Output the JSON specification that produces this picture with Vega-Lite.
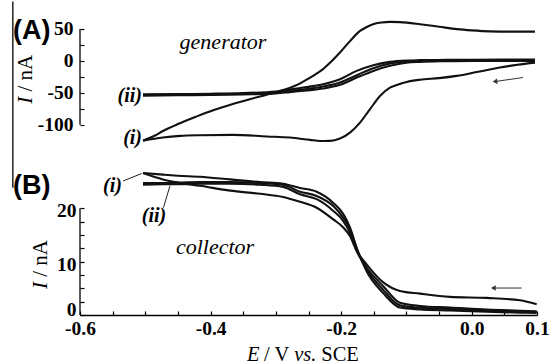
{
  "$schema": "https://vega.github.io/schema/vega-lite/v6.json",
  "padding": {"left": 12, "top": 0, "right": 0, "bottom": 0},
  "bounds": "flush",
  "spacing": 18,
  "config": {
    "font": "Liberation Serif",
    "view": {"stroke": null},
    "axis": {"grid": false, "domainColor": "#000", "tickColor": "#000", "labelColor": "#000", "labelFont": "Liberation Serif", "labelFontWeight": "bold", "labelFontSize": 19.5, "tickWidth": 1.2, "domainWidth": 1.3, "labelFlush": false, "labelOverlap": false}
  },
  "datasets": {
    "genA": [
      {"s":"i_rev","E":-0.5035,"I":-125},{"s":"i_rev","E":-0.485,"I":-117},{"s":"i_rev","E":-0.473,"I":-110},{"s":"i_rev","E":-0.45,"I":-99},{"s":"i_rev","E":-0.421,"I":-87},{"s":"i_rev","E":-0.395,"I":-77},{"s":"i_rev","E":-0.366,"I":-67.5},{"s":"i_rev","E":-0.34,"I":-60},{"s":"i_rev","E":-0.314,"I":-53},{"s":"i_rev","E":-0.295,"I":-47.5},{"s":"i_rev","E":-0.278,"I":-42},{"s":"i_rev","E":-0.265,"I":-36.5},{"s":"i_rev","E":-0.2528,"I":-29.5},{"s":"i_rev","E":-0.24,"I":-21.5},{"s":"i_rev","E":-0.2278,"I":-13},{"s":"i_rev","E":-0.215,"I":-1},{"s":"i_rev","E":-0.2018,"I":13},{"s":"i_rev","E":-0.1865,"I":31},{"s":"i_rev","E":-0.1711,"I":47},{"s":"i_rev","E":-0.16,"I":53.5},{"s":"i_rev","E":-0.1512,"I":57.5},{"s":"i_rev","E":-0.138,"I":60.2},{"s":"i_rev","E":-0.1252,"I":61.1},{"s":"i_rev","E":-0.11,"I":60.8},{"s":"i_rev","E":-0.0992,"I":60},{"s":"i_rev","E":-0.0793,"I":57.5},{"s":"i_rev","E":-0.05,"I":53.5},{"s":"i_rev","E":-0.0226,"I":49.7},{"s":"i_rev","E":0.0,"I":47.8},{"s":"i_rev","E":0.028,"I":46.3},{"s":"i_rev","E":0.06,"I":45.9},{"s":"i_rev","E":0.0969,"I":45.9},
      {"s":"i_fwd","E":0.0969,"I":-2.7},{"s":"i_fwd","E":0.07,"I":-6},{"s":"i_fwd","E":0.0433,"I":-10.5},{"s":"i_fwd","E":0.01,"I":-17},{"s":"i_fwd","E":-0.023,"I":-23.5},{"s":"i_fwd","E":-0.05,"I":-27},{"s":"i_fwd","E":-0.0793,"I":-29.5},{"s":"i_fwd","E":-0.0996,"I":-33},{"s":"i_fwd","E":-0.1125,"I":-37},{"s":"i_fwd","E":-0.1252,"I":-42},{"s":"i_fwd","E":-0.1405,"I":-55},{"s":"i_fwd","E":-0.1558,"I":-75.7},{"s":"i_fwd","E":-0.1711,"I":-96.7},{"s":"i_fwd","E":-0.1865,"I":-112.4},{"s":"i_fwd","E":-0.2018,"I":-121.8},{"s":"i_fwd","E":-0.2171,"I":-125.4},{"s":"i_fwd","E":-0.232,"I":-125.5},{"s":"i_fwd","E":-0.2477,"I":-123.8},{"s":"i_fwd","E":-0.2784,"I":-120.2},{"s":"i_fwd","E":-0.3136,"I":-118.5},{"s":"i_fwd","E":-0.3657,"I":-116},{"s":"i_fwd","E":-0.4162,"I":-116.5},{"s":"i_fwd","E":-0.4468,"I":-117.5},{"s":"i_fwd","E":-0.473,"I":-120},{"s":"i_fwd","E":-0.5035,"I":-125},
      {"s":"ii_a","E":-0.5035,"I":-52.5},{"s":"ii_a","E":-0.45,"I":-52},{"s":"ii_a","E":-0.4,"I":-51.5},{"s":"ii_a","E":-0.35,"I":-50.5},{"s":"ii_a","E":-0.3,"I":-48},{"s":"ii_a","E":-0.2784,"I":-45},{"s":"ii_a","E":-0.2528,"I":-41},{"s":"ii_a","E":-0.2275,"I":-36.5},{"s":"ii_a","E":-0.2018,"I":-28.7},{"s":"ii_a","E":-0.1762,"I":-15.7},{"s":"ii_a","E":-0.1508,"I":-6.7},{"s":"ii_a","E":-0.1252,"I":-1.6},{"s":"ii_a","E":-0.1,"I":0.5},{"s":"ii_a","E":-0.0793,"I":1.1},{"s":"ii_a","E":-0.04,"I":1.5},{"s":"ii_a","E":0.0,"I":1.8},{"s":"ii_a","E":0.05,"I":2},{"s":"ii_a","E":0.0969,"I":2},
      {"s":"ii_b","E":-0.5035,"I":-53.5},{"s":"ii_b","E":-0.45,"I":-53},{"s":"ii_b","E":-0.4,"I":-52.5},{"s":"ii_b","E":-0.35,"I":-51.5},{"s":"ii_b","E":-0.3,"I":-49.5},{"s":"ii_b","E":-0.2784,"I":-47},{"s":"ii_b","E":-0.2528,"I":-44},{"s":"ii_b","E":-0.2275,"I":-40.3},{"s":"ii_b","E":-0.2018,"I":-34},{"s":"ii_b","E":-0.1762,"I":-22.4},{"s":"ii_b","E":-0.1508,"I":-11.4},{"s":"ii_b","E":-0.1252,"I":-4.2},{"s":"ii_b","E":-0.1,"I":-1},{"s":"ii_b","E":-0.0793,"I":0},{"s":"ii_b","E":-0.04,"I":0.5},{"s":"ii_b","E":0.0,"I":0.8},{"s":"ii_b","E":0.05,"I":1},{"s":"ii_b","E":0.0969,"I":1},
      {"s":"ii_c","E":-0.5035,"I":-54.5},{"s":"ii_c","E":-0.45,"I":-54},{"s":"ii_c","E":-0.4,"I":-53.5},{"s":"ii_c","E":-0.35,"I":-52.5},{"s":"ii_c","E":-0.3,"I":-51},{"s":"ii_c","E":-0.2784,"I":-49},{"s":"ii_c","E":-0.2528,"I":-46.5},{"s":"ii_c","E":-0.2275,"I":-43.4},{"s":"ii_c","E":-0.2018,"I":-37.6},{"s":"ii_c","E":-0.1762,"I":-26.2},{"s":"ii_c","E":-0.1508,"I":-15.7},{"s":"ii_c","E":-0.1252,"I":-7.8},{"s":"ii_c","E":-0.1,"I":-3},{"s":"ii_c","E":-0.0793,"I":-1.6},{"s":"ii_c","E":-0.04,"I":-0.5},{"s":"ii_c","E":0.0,"I":0},{"s":"ii_c","E":0.05,"I":0},{"s":"ii_c","E":0.0969,"I":0}
    ],
    "colB": [
      {"s":"A","E":-0.5035,"I":26.6},{"s":"A","E":-0.473,"I":26.3},{"s":"A","E":-0.45,"I":26.1},{"s":"A","E":-0.416,"I":25.9},{"s":"A","E":-0.37,"I":25.4},{"s":"A","E":-0.324,"I":24.9},{"s":"A","E":-0.289,"I":24.6},{"s":"A","E":-0.263,"I":23.8},{"s":"A","E":-0.2375,"I":23.1},{"s":"A","E":-0.212,"I":21.0},{"s":"A","E":-0.1967,"I":18.9},{"s":"A","E":-0.1865,"I":16.4},{"s":"A","E":-0.1762,"I":12.6},{"s":"A","E":-0.161,"I":8.2},{"s":"A","E":-0.1355,"I":4.1},{"s":"A","E":-0.1099,"I":1.4},{"s":"A","E":-0.0793,"I":1.05},{"s":"A","E":-0.0333,"I":0.85},{"s":"A","E":0.023,"I":0.6},{"s":"A","E":0.074,"I":0.45},{"s":"A","E":0.0995,"I":0.4},
      {"s":"B","E":-0.5035,"I":24.7},{"s":"B","E":-0.473,"I":24.7},{"s":"B","E":-0.45,"I":24.8},{"s":"B","E":-0.416,"I":24.9},{"s":"B","E":-0.37,"I":24.9},{"s":"B","E":-0.324,"I":24.7},{"s":"B","E":-0.289,"I":24.4},{"s":"B","E":-0.263,"I":23.1},{"s":"B","E":-0.2375,"I":22.3},{"s":"B","E":-0.212,"I":20.4},{"s":"B","E":-0.1967,"I":18.2},{"s":"B","E":-0.1865,"I":16.1},{"s":"B","E":-0.1762,"I":12.4},{"s":"B","E":-0.161,"I":8.6},{"s":"B","E":-0.1355,"I":4.7},{"s":"B","E":-0.1099,"I":1.8},{"s":"B","E":-0.0793,"I":1.35},{"s":"B","E":-0.0333,"I":1.1},{"s":"B","E":0.023,"I":0.8},{"s":"B","E":0.074,"I":0.6},{"s":"B","E":0.0995,"I":0.55},
      {"s":"C","E":-0.5035,"I":24.4},{"s":"C","E":-0.473,"I":24.5},{"s":"C","E":-0.45,"I":24.5},{"s":"C","E":-0.416,"I":24.6},{"s":"C","E":-0.37,"I":24.6},{"s":"C","E":-0.324,"I":24.4},{"s":"C","E":-0.289,"I":24.0},{"s":"C","E":-0.263,"I":22.6},{"s":"C","E":-0.2375,"I":21.7},{"s":"C","E":-0.212,"I":19.5},{"s":"C","E":-0.1967,"I":17.6},{"s":"C","E":-0.1865,"I":15.4},{"s":"C","E":-0.1762,"I":12.0},{"s":"C","E":-0.161,"I":8.9},{"s":"C","E":-0.1355,"I":5.4},{"s":"C","E":-0.1099,"I":2.3},{"s":"C","E":-0.0793,"I":1.7},{"s":"C","E":-0.0333,"I":1.4},{"s":"C","E":0.023,"I":1.0},{"s":"C","E":0.074,"I":0.8},{"s":"C","E":0.0995,"I":0.7},
      {"s":"D","E":-0.5035,"I":26.6},{"s":"D","E":-0.473,"I":25.4},{"s":"D","E":-0.45,"I":24.8},{"s":"D","E":-0.416,"I":24.2},{"s":"D","E":-0.37,"I":23.3},{"s":"D","E":-0.324,"I":22.7},{"s":"D","E":-0.289,"I":22.1},{"s":"D","E":-0.263,"I":21.2},{"s":"D","E":-0.2375,"I":20.1},{"s":"D","E":-0.212,"I":17.9},{"s":"D","E":-0.1967,"I":16.4},{"s":"D","E":-0.1865,"I":14.8},{"s":"D","E":-0.1762,"I":12.0},{"s":"D","E":-0.161,"I":9.5},{"s":"D","E":-0.1355,"I":6.1},{"s":"D","E":-0.1099,"I":4.5},{"s":"D","E":-0.0793,"I":4.0},{"s":"D","E":-0.0333,"I":3.4},{"s":"D","E":0.023,"I":3.2},{"s":"D","E":0.074,"I":2.75},{"s":"D","E":0.0995,"I":2.0}
    ]
  },
  "vconcat": [
    {
      "width": 457,
      "height": 126,
      "encoding": {
        "x": {"field": "E", "type": "quantitative", "scale": {"domain": [-0.6, 0.1], "nice": false, "zero": false}, "axis": null},
        "y": {"field": "I", "type": "quantitative", "scale": {"domain": [-135, 62.5], "nice": false, "zero": false},
          "axis": {"orient": "left", "values": [-100, -75, -50, -25, 0, 25, 50], "labelExpr": "datum.value % 50 == 0 ? (datum.value < 0 ? '-' + format(-datum.value, 'd') : format(datum.value, 'd')) : ''", "labelFont": "Liberation Serif", "labelFontWeight": "bold", "labelFontSize": 19.5, "tickSize": -4, "labelPadding": 11, "domain": false, "title": null}}
      },
      "layer": [
        {"data": {"name": "genA"}, "mark": {"type": "line", "interpolate": "monotone", "strokeWidth": 2.1, "color": "#111"}, "encoding": {"detail": {"field": "s"}}},
        {"data": {"values": [{"E": -0.6, "I": -100, "I2": 50}]}, "mark": {"type": "rule", "color": "#000", "strokeWidth": 1.3}, "encoding": {"y2": {"field": "I2"}}},
        {"data": {"values": [{"E": -0.7029, "I": 92.9, "I2": -199}]}, "mark": {"type": "rule", "color": "#222", "strokeWidth": 1.5}, "encoding": {"y2": {"field": "I2"}}},
        {"data": {"values": [{"E": -0.7026, "I": 34.5, "t": "(A)"}]}, "mark": {"type": "text", "font": "Liberation Sans", "fontWeight": "bold", "fontSize": 27, "align": "left", "baseline": "alphabetic", "color": "#000"}, "encoding": {"text": {"field": "t"}}},
        {"data": {"values": [{"E": -0.381, "I": 18.8, "t": "generator"}]}, "mark": {"type": "text", "font": "Liberation Serif", "fontStyle": "italic", "fontSize": 22, "align": "center", "baseline": "alphabetic", "color": "#000"}, "encoding": {"text": {"field": "t"}}},
        {"data": {"values": [{"E": -0.505, "I": -54.9, "t": "(ii)"}, {"E": -0.505, "I": -120.7, "t": "(i)"}]}, "mark": {"type": "text", "font": "Liberation Serif", "fontStyle": "italic", "fontWeight": "bold", "fontSize": 20, "align": "right", "baseline": "middle", "color": "#000"}, "encoding": {"text": {"field": "t"}}},
        {"data": {"values": [{"E": -0.6735, "I": -67.4, "t": "I"}]}, "mark": {"type": "text", "font": "Liberation Serif", "fontStyle": "italic", "fontSize": 21, "angle": 270, "align": "left", "baseline": "alphabetic", "color": "#000"}, "encoding": {"text": {"field": "t"}}},
        {"data": {"values": [{"E": -0.6735, "I": -48.2, "t": "/ nA"}]}, "mark": {"type": "text", "font": "Liberation Serif", "fontSize": 21, "angle": 270, "align": "left", "baseline": "alphabetic", "color": "#000"}, "encoding": {"text": {"field": "t"}}},
        {"data": {"values": [{"E": 0.0785, "I": -26.1, "E2": 0.0356, "I2": -32.4}]}, "mark": {"type": "rule", "strokeWidth": 1, "color": "#333"}, "encoding": {"x2": {"field": "E2"}, "y2": {"field": "I2"}}},
        {"data": {"values": [{"E": 0.0356, "I": -32.4}]}, "mark": {"type": "point", "shape": "triangle-left", "filled": true, "size": 30, "color": "#333", "opacity": 1, "angle": -8}}
      ]
    },
    {
      "width": 457,
      "height": 150,
      "encoding": {
        "x": {"field": "E", "type": "quantitative", "scale": {"domain": [-0.6, 0.1], "nice": false, "zero": false},
          "axis": {"orient": "bottom", "values": [-0.6, -0.55, -0.5, -0.45, -0.4, -0.35, -0.3, -0.25, -0.2, -0.15, -0.1, -0.05, 0, 0.05, 0.1], "labelExpr": "(datum.value == -0.6 || datum.value == -0.4 || datum.value == -0.2 || datum.value == 0 || datum.value == 0.1) ? (datum.value < 0 ? '-' + format(-datum.value, '.1f') : format(datum.value, '.1f')) : ''", "labelFont": "Liberation Serif", "labelFontWeight": "bold", "labelFontSize": 19.5, "tickSize": -4, "labelPadding": 8, "title": null}},
        "y": {"field": "I", "type": "quantitative", "scale": {"domain": [0, 28.1], "nice": false, "zero": false},
          "axis": {"orient": "left", "values": [0, 2.5, 5, 7.5, 10, 12.5, 15, 17.5, 20], "labelExpr": "datum.value % 10 == 0 ? format(datum.value, 'd') : ''", "labelFont": "Liberation Serif", "labelFontWeight": "bold", "labelFontSize": 19.5, "labelOffset": {"condition": {"test": "datum.value == 0", "value": -6}, "value": 2.5}, "tickSize": -4, "labelPadding": 8, "domain": false, "title": null}}
      },
      "layer": [
        {"data": {"name": "colB"}, "mark": {"type": "line", "interpolate": "monotone", "strokeWidth": 2.1, "color": "#111"}, "encoding": {"detail": {"field": "s"}}},
        {"data": {"values": [{"E": -0.6, "I": 0, "I2": 20}]}, "mark": {"type": "rule", "color": "#000", "strokeWidth": 1.3}, "encoding": {"y2": {"field": "I2"}}},
        {"data": {"values": [{"E": -0.7026, "I": 22.7, "t": "(B)"}]}, "mark": {"type": "text", "font": "Liberation Sans", "fontWeight": "bold", "fontSize": 27, "align": "left", "baseline": "alphabetic", "color": "#000"}, "encoding": {"text": {"field": "t"}}},
        {"data": {"values": [{"E": -0.3932, "I": 11.4, "t": "collector"}]}, "mark": {"type": "text", "font": "Liberation Serif", "fontStyle": "italic", "fontSize": 22, "align": "center", "baseline": "alphabetic", "color": "#000"}, "encoding": {"text": {"field": "t"}}},
        {"data": {"values": [{"E": -0.5357, "I": 24.2, "t": "(i)"}]}, "mark": {"type": "text", "font": "Liberation Serif", "fontStyle": "italic", "fontWeight": "bold", "fontSize": 20, "align": "right", "baseline": "middle", "color": "#000"}, "encoding": {"text": {"field": "t"}}},
        {"data": {"values": [{"E": -0.4867, "I": 18.5, "t": "(ii)"}]}, "mark": {"type": "text", "font": "Liberation Serif", "fontStyle": "italic", "fontWeight": "bold", "fontSize": 20, "align": "center", "baseline": "middle", "color": "#000"}, "encoding": {"text": {"field": "t"}}},
        {"data": {"values": [{"E": -0.534, "I": 25.1, "E2": -0.5056, "I2": 26.5}, {"E": -0.4722, "I": 20.1, "E2": -0.4622, "I2": 24.2}]}, "mark": {"type": "rule", "strokeWidth": 1, "color": "#222"}, "encoding": {"x2": {"field": "E2"}, "y2": {"field": "I2"}}},
        {"data": {"values": [{"E": -0.6505, "I": 4.87, "t": "I"}]}, "mark": {"type": "text", "font": "Liberation Serif", "fontStyle": "italic", "fontSize": 21, "angle": 270, "align": "left", "baseline": "alphabetic", "color": "#000"}, "encoding": {"text": {"field": "t"}}},
        {"data": {"values": [{"E": -0.6505, "I": 7.17, "t": "/ nA"}]}, "mark": {"type": "text", "font": "Liberation Serif", "fontSize": 21, "angle": 270, "align": "left", "baseline": "alphabetic", "color": "#000"}, "encoding": {"text": {"field": "t"}}},
        {"data": {"values": [{"E": -0.3442, "I": -8.62, "t": "E"}, {"E": -0.2719, "I": -8.62, "t": "vs."}]}, "mark": {"type": "text", "font": "Liberation Serif", "fontStyle": "italic", "fontSize": 20.5, "align": "left", "baseline": "alphabetic", "color": "#000"}, "encoding": {"text": {"field": "t"}}},
        {"data": {"values": [{"E": -0.318, "I": -8.62, "t": "/ V"}, {"E": -0.2305, "I": -8.62, "t": "SCE"}]}, "mark": {"type": "text", "font": "Liberation Serif", "fontSize": 20.5, "align": "left", "baseline": "alphabetic", "color": "#000"}, "encoding": {"text": {"field": "t"}}},
        {"data": {"values": [{"E": 0.0765, "I": 5.05, "E2": 0.0331, "I2": 5.05}]}, "mark": {"type": "rule", "strokeWidth": 1, "color": "#333"}, "encoding": {"x2": {"field": "E2"}, "y2": {"field": "I2"}}},
        {"data": {"values": [{"E": 0.0331, "I": 5.05}]}, "mark": {"type": "point", "shape": "triangle-left", "filled": true, "size": 30, "color": "#333", "opacity": 1}}
      ]
    }
  ]
}
